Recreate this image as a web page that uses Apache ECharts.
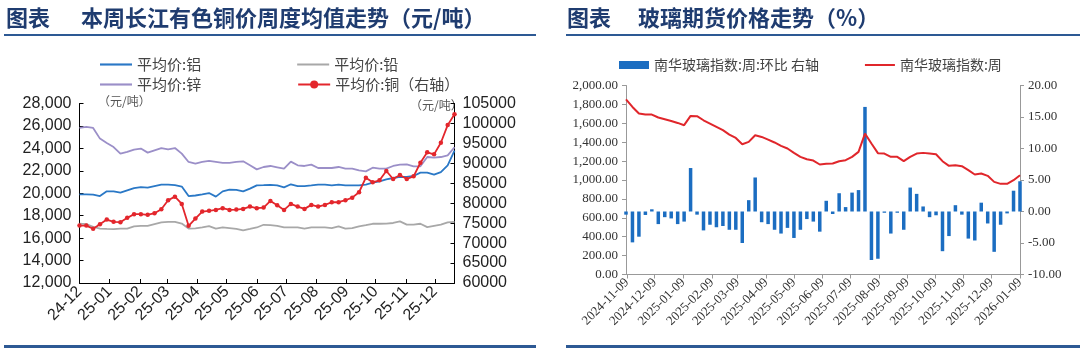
<!DOCTYPE html>
<html><head><meta charset="utf-8">
<script src="https://cdn.jsdelivr.net/npm/echarts@6/dist/echarts.min.js"></script>
<style>html,body{margin:0;padding:0;background:#fff}#c{width:1080px;height:349px}</style>
</head><body><div id="c"></div>
<script>
// ---------- Left chart: weekly averages (Yangtze non-ferrous) ----------
const leftStart = '2024-12-01';      // first weekly point
const leftWeeks = 56;
const leftMonthTicks = ['2024-12-01','2025-01-01','2025-02-01','2025-03-01','2025-04-01','2025-05-01','2025-06-01','2025-07-01','2025-08-01','2025-09-01','2025-10-01','2025-11-01','2025-12-01'];
const aluminum = [19900,19900,19880,19750,20170,20170,20050,20260,20460,20550,20500,20640,20770,20770,20720,20600,19750,19800,19900,20020,19700,20170,20320,20300,20170,20410,20700,20720,20750,20700,20530,20800,20640,20640,20700,20770,20770,20700,20770,20700,20700,20700,20770,20940,21060,21240,21360,21450,21450,21540,21840,21840,21660,21890,22490,23800];
const lead = [17300,17250,17000,16850,16820,16800,16850,16850,17050,17100,17100,17250,17400,17450,17450,17300,16850,16870,16950,17070,16850,16950,16900,16820,16700,16820,16950,17190,17150,17100,16950,16950,16950,16850,16950,16950,16950,16900,17050,16850,16900,17050,17150,17280,17280,17300,17350,17490,17200,17200,17280,16980,17100,17200,17400,17450];
const zinc = [25820,25910,25820,24870,24480,24120,23530,23680,23890,23980,23620,23830,24030,23920,24030,23530,22790,22650,22800,22880,22790,22700,22700,22790,22850,22490,22130,22340,22430,22310,22190,22820,22490,22430,22550,22250,22250,22250,22340,22190,22190,22040,21950,22280,22190,22190,22430,22550,22580,22400,22400,23230,23170,23230,23380,24100];
const copper = [74400,74400,73600,74750,75900,75330,75250,76330,77250,77250,77080,77500,78500,80750,81650,79830,74330,76150,77900,78100,78330,78750,78330,78400,78580,79150,78750,78900,80580,79500,78330,79830,79150,78580,79580,79150,79580,80250,80250,80750,81400,82750,86400,85250,85750,88080,86080,87080,86080,86750,90150,92750,92250,95150,99580,102330];
const leftNames = ['平均价:铝','平均价:铅','平均价:锌','平均价:铜（右轴）'];

// ---------- Right chart: glass futures ----------
const rightStart = '2024-11-08';
const rightWeeks = 62;
const rightTicks = ['2024-11-09','2024-12-09','2025-01-09','2025-02-09','2025-03-09','2025-04-09','2025-05-09','2025-06-09','2025-07-09','2025-08-09','2025-09-09','2025-10-09','2025-11-09','2025-12-09','2026-01-09'];
const glassIndex = [1854,1773,1703,1692,1692,1661,1643,1625,1604,1580,1678,1675,1632,1597,1562,1527,1481,1445,1379,1403,1474,1456,1428,1397,1361,1333,1287,1245,1220,1206,1164,1171,1174,1199,1210,1245,1298,1491,1386,1284,1280,1245,1245,1199,1245,1280,1287,1280,1273,1199,1150,1157,1146,1104,1058,1069,1044,980,959,959,998,1051];
const glassWoW = [-0.5,-4.9,-4.0,-0.55,0.35,-2.0,-0.9,-1.1,-2.0,-1.6,6.9,-0.5,-3.0,-2.1,-2.5,-2.3,-2.9,-2.9,-5.0,1.8,5.4,-1.7,-2.0,-2.9,-3.5,-2.6,-4.2,-2.9,-1.2,-1.6,-3.2,1.7,-0.4,2.9,0.7,3.0,3.4,16.6,-7.7,-7.5,-0.2,-3.5,-0.2,-2.9,3.8,2.8,0.8,-0.9,-0.6,-6.3,-3.9,1.0,-0.5,-4.3,-4.6,1.4,-1.9,-6.4,-2.1,-0.3,3.3,4.8];
const rightNames = ['南华玻璃指数:周:环比 右轴','南华玻璃指数:周'];

// ---------- helpers ----------
function ts(s){const p=s.split('-').map(Number);return Date.UTC(p[0],p[1]-1,p[2]);}
function weekly(start,n){const p=start.split('-').map(Number);const out=[];for(let k=0;k<n;k++){out.push(Date.UTC(p[0],p[1]-1,p[2]+7*k));}return out;}
function pair(dates,vals){return vals.map((v,i)=>[dates[i],v]);}
const leftDates = weekly(leftStart,leftWeeks);
const rightDates = weekly(rightStart,rightWeeks);
const pad=n=>String(n).padStart(2,'0');

const SANS='Liberation Sans, Arial, sans-serif';
const SERIF='Liberation Serif, Times New Roman, serif';
const CJK='Noto Sans CJK SC, sans-serif';
const titleColor='#1f3c70', lineColor='#2d5994';
const LINE_ICON='path://M0,0 L30,0 L30,2 L0,2 Z';

const chart = echarts.init(document.getElementById('c'), null, {renderer:'canvas'});
chart.setOption({
  animation:false,
  backgroundColor:'#fff',
  grid:[
    {left:79.5, top:103.5, width:375, height:179.5, containLabel:false},
    {left:626, top:85.5, width:394, height:189, containLabel:false}
  ],
  legend:[
    {data:[{name:leftNames[0],icon:LINE_ICON},{name:leftNames[1],icon:LINE_ICON}], left:95, top:52, itemWidth:32, itemHeight:10, itemGap:96,
     textStyle:{fontFamily:CJK, fontSize:15, color:'#444'}, selectedMode:false},
    {data:[{name:leftNames[2],icon:LINE_ICON},{name:leftNames[3]}], left:95, top:72, itemWidth:32, itemHeight:10, itemGap:96,
     textStyle:{fontFamily:CJK, fontSize:15, color:'#444'}, selectedMode:false},
    {data:[{name:rightNames[0],icon:'rect'},{name:rightNames[1],icon:LINE_ICON}], left:614, top:53, itemWidth:30, itemHeight:8, itemGap:46,
     textStyle:{fontFamily:CJK, fontSize:14, color:'#444'}, selectedMode:false}
  ],
  xAxis:[
    {type:'value', gridIndex:0, min:leftDates[0], max:leftDates[leftDates.length-1], scale:true,
     axisLine:{show:true, onZero:false, lineStyle:{color:'#000', width:1}},
     axisTick:{show:true, inside:true, length:4, customValues:leftMonthTicks.map(ts), lineStyle:{color:'#000'}},
     axisLabel:{rotate:45, customValues:leftMonthTicks.map(ts), fontFamily:SANS, fontSize:16, color:'#222', margin:6,
       formatter:v=>{const d=new Date(v);return String(d.getUTCFullYear()).slice(2)+'-'+pad(d.getUTCMonth()+1);}},
     splitLine:{show:false}},
    {type:'value', gridIndex:1, min:rightDates[0], max:rightDates[rightDates.length-1], scale:true,
     axisLine:{show:true, onZero:false, lineStyle:{color:'#999', width:1}},
     axisTick:{show:true, inside:false, length:4, customValues:rightTicks.map(ts), lineStyle:{color:'#999'}},
     axisLabel:{rotate:45, customValues:rightTicks.map(ts), fontFamily:SERIF, fontSize:13, color:'#333', margin:6,
       formatter:v=>{const d=new Date(v);return d.getUTCFullYear()+'-'+pad(d.getUTCMonth()+1)+'-'+pad(d.getUTCDate());}},
     splitLine:{show:false}}
  ],
  yAxis:[
    {type:'value', gridIndex:0, min:12000, max:28000, interval:2000, position:'left',
     axisLine:{show:true, lineStyle:{color:'#000'}}, axisTick:{show:true, inside:true, length:4},
     axisLabel:{fontFamily:SANS, fontSize:16, color:'#222', margin:8, formatter:v=>v.toLocaleString('en-US')},
     splitLine:{show:false}},
    {type:'value', gridIndex:0, min:60000, max:105000, interval:5000, position:'right',
     axisLine:{show:true, lineStyle:{color:'#000'}}, axisTick:{show:true, inside:true, length:4},
     axisLabel:{fontFamily:SANS, fontSize:16, color:'#222', margin:8, formatter:v=>String(v)},
     splitLine:{show:false}},
    {type:'value', gridIndex:1, min:0, max:2000, interval:200, position:'left',
     axisLine:{show:true, lineStyle:{color:'#999'}}, axisTick:{show:true, inside:false, length:4, lineStyle:{color:'#999'}},
     axisLabel:{fontFamily:SERIF, fontSize:13, color:'#333', margin:8,
       formatter:v=>v.toLocaleString('en-US',{minimumFractionDigits:2,maximumFractionDigits:2})},
     splitLine:{show:false}},
    {type:'value', gridIndex:1, min:-10, max:20, interval:5, position:'right',
     axisLine:{show:true, lineStyle:{color:'#999'}}, axisTick:{show:true, inside:false, length:4, lineStyle:{color:'#999'}},
     axisLabel:{fontFamily:SERIF, fontSize:13, color:'#333', margin:8, formatter:v=>v.toFixed(2)},
     splitLine:{show:false}}
  ],
  series:[
    {name:leftNames[0], type:'line', xAxisIndex:0, yAxisIndex:0, data:pair(leftDates,aluminum), symbol:'none',
     lineStyle:{color:'#2a78c6', width:1.8}, itemStyle:{color:'#2a78c6'}},
    {name:leftNames[1], type:'line', xAxisIndex:0, yAxisIndex:0, data:pair(leftDates,lead), symbol:'none',
     lineStyle:{color:'#a8a8a8', width:1.8}, itemStyle:{color:'#a8a8a8'}},
    {name:leftNames[2], type:'line', xAxisIndex:0, yAxisIndex:0, data:pair(leftDates,zinc), symbol:'none',
     lineStyle:{color:'#9b8fc8', width:1.8}, itemStyle:{color:'#9b8fc8'}},
    {name:leftNames[3], type:'line', xAxisIndex:0, yAxisIndex:1, data:pair(leftDates,copper), symbol:'circle', symbolSize:4.5,
     lineStyle:{color:'#e3262c', width:1.8}, itemStyle:{color:'#e3262c'}},
    {name:rightNames[0], type:'bar', xAxisIndex:1, yAxisIndex:3, data:pair(rightDates,glassWoW), barWidth:3.5,
     itemStyle:{color:'#1b6dc1'}},
    {name:rightNames[1], type:'line', xAxisIndex:1, yAxisIndex:2, data:pair(rightDates,glassIndex), symbol:'none', z:3,
     lineStyle:{color:'#e0262b', width:2}, itemStyle:{color:'#e0262b'}}
  ],
  graphic:[
    {type:'text', left:6, top:7, style:{text:'图表', font:'bold 22px '+CJK, fill:titleColor}},
    {type:'text', left:81, top:7, style:{text:'本周长江有色铜价周度均值走势（元/吨）', font:'bold 22px '+CJK, fill:titleColor}},
    {type:'rect', shape:{x:4, y:34, width:532, height:2}, style:{fill:lineColor}},
    {type:'rect', shape:{x:4, y:345, width:532, height:3}, style:{fill:lineColor}},
    {type:'text', left:98, top:95, style:{text:'（元/吨）', font:'12px '+CJK, fill:'#555'}},
    {type:'text', left:410, top:99, style:{text:'（元/吨）', font:'12px '+CJK, fill:'#555'}},
    {type:'text', left:567, top:7, style:{text:'图表', font:'bold 22px '+CJK, fill:titleColor}},
    {type:'text', left:638, top:7, style:{text:'玻璃期货价格走势（%）', font:'bold 22px '+CJK, fill:titleColor}},
    {type:'rect', shape:{x:566, y:34, width:514, height:2}, style:{fill:lineColor}},
    {type:'rect', shape:{x:566, y:345, width:514, height:3}, style:{fill:lineColor}}
  ]
});
</script></body></html>
